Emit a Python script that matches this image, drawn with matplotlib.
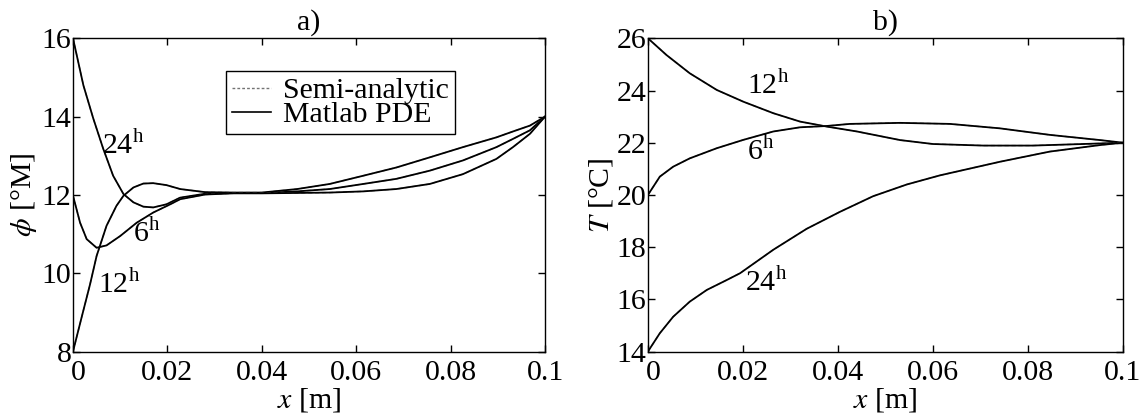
import matplotlib
matplotlib.use('Agg')
import matplotlib.pyplot as plt
import matplotlib.transforms as mtransforms

# a) moisture potential phi [°M] vs x [m]
phi_x_24 = [0, 0.0022, 0.0043, 0.0064, 0.0085, 0.0107, 0.0128, 0.0149, 0.017, 0.0198, 0.0227,
            0.028, 0.034, 0.04, 0.0475, 0.0544, 0.0615, 0.0685, 0.0756, 0.0826, 0.0897,
            0.0932, 0.0968, 0.1]
phi_24 = [16, 14.80, 13.95, 13.18, 12.49, 12.02, 11.81, 11.70, 11.68, 11.76, 11.93,
          12.03, 12.05, 12.05, 12.09, 12.15, 12.28, 12.41, 12.62, 12.88, 13.22,
          13.43, 13.65, 14.0]
phi_x_12 = [0, 0.0018, 0.0036, 0.005, 0.0071, 0.0092, 0.0107, 0.0128, 0.0149, 0.017, 0.0198,
            0.0227, 0.028, 0.034, 0.04, 0.0475, 0.0544, 0.0615, 0.0685, 0.0756, 0.0826,
            0.0897, 0.0932, 0.0968, 0.1]
phi_12 = [8, 8.86, 9.71, 10.44, 11.21, 11.72, 11.98, 12.19, 12.29, 12.30, 12.25,
          12.15, 12.07, 12.06, 12.06, 12.15, 12.28, 12.49, 12.70, 12.96, 13.22,
          13.47, 13.62, 13.77, 14.0]
phi_x_6 = [0, 0.0015, 0.0029, 0.005, 0.0071, 0.01, 0.0135, 0.017, 0.0206, 0.0227,
           0.028, 0.034, 0.04, 0.0475, 0.0544, 0.0615, 0.0685, 0.0756, 0.0826, 0.0897,
           0.0932, 0.0968, 0.1]
phi_6 = [11.98, 11.29, 10.87, 10.65, 10.71, 10.95, 11.29, 11.55, 11.76, 11.89,
         12.01, 12.04, 12.04, 12.05, 12.06, 12.09, 12.15, 12.28, 12.53, 12.92,
         13.22, 13.56, 14.0]

# b) temperature T [°C] vs x [m]
T_x_12 = [0, 0.0039, 0.0088, 0.0145, 0.0201, 0.0264, 0.032, 0.0376, 0.044, 0.0531,
          0.06, 0.0706, 0.081, 0.0916, 0.1]
T_12 = [26, 25.36, 24.66, 24.02, 23.57, 23.13, 22.81, 22.62, 22.43, 22.10,
        21.95, 21.89, 21.89, 21.95, 22.0]
T_x_6 = [0, 0.0025, 0.0053, 0.0088, 0.0145, 0.0201, 0.0264, 0.032, 0.0376, 0.0425,
         0.0531, 0.0636, 0.0741, 0.0846, 0.0952, 0.1]
T_6 = [20.0, 20.70, 21.08, 21.40, 21.79, 22.11, 22.43, 22.59, 22.64, 22.72,
       22.76, 22.72, 22.55, 22.30, 22.10, 22.0]
T_x_24 = [0, 0.0025, 0.0053, 0.0088, 0.0124, 0.0166, 0.0194, 0.0264, 0.0334, 0.0404,
          0.0474, 0.0545, 0.0615, 0.0741, 0.0846, 0.0952, 0.1]
T_24 = [14.0, 14.70, 15.33, 15.91, 16.36, 16.74, 17.0, 17.9, 18.7, 19.35,
        19.95, 20.4, 20.75, 21.27, 21.66, 21.91, 22.0]

x_ticks = [0, 0.02, 0.04, 0.06, 0.08, 0.1]
x_tick_labels = ['0', '0.02', '0.04', '0.06', '0.08', '0.1']

FS = 21.5
plt.rcParams['font.family'] = ['Liberation Serif', 'DejaVu Serif']
plt.rcParams['mathtext.fontset'] = 'stix'
plt.rcParams['font.size'] = FS

fig = plt.figure(figsize=(11.46, 4.15), dpi=100)
ax1 = fig.add_axes([0.0637, 0.153, 0.4119, 0.7547])
ax2 = fig.add_axes([0.5654, 0.153, 0.4145, 0.7547])


def draw_pair(ax, x, y):
    # semi-analytic (dashed) and Matlab PDE (solid) coincide
    ax.plot(x, y, color='0.55', lw=1.0, ls=(0, (3, 2)))
    ax.plot(x, y, color='black', lw=1.3)


for x, y in [(phi_x_24, phi_24), (phi_x_12, phi_12), (phi_x_6, phi_6)]:
    draw_pair(ax1, x, y)
for x, y in [(T_x_12, T_12), (T_x_6, T_6), (T_x_24, T_24)]:
    draw_pair(ax2, x, y)

# legend handles
l_semi, = ax1.plot([], [], color='0.45', lw=1.0, ls=(0, (2, 1.5)), label='Semi-analytic')
l_pde, = ax1.plot([], [], color='black', lw=1.2, label='Matlab PDE')
leg = ax1.legend(handles=[l_semi, l_pde], loc='upper left', bbox_to_anchor=(0.324, 0.895),
                 borderaxespad=0, fancybox=False, framealpha=1, edgecolor='black',
                 handlelength=1.3, handletextpad=0.4, labelspacing=-0.1, borderpad=0.2,
                 fontsize=FS)
leg.get_frame().set_linewidth(1.0)

# curve labels
ax1.text(0.0061, 13.26, '24$^{\\mathregular{h}}$', va='center', ha='left')
ax1.text(0.0127, 11.0, '6$^{\\mathregular{h}}$', va='center', ha='left')
ax1.text(0.0053, 9.7, '12$^{\\mathregular{h}}$', va='center', ha='left')
ax2.text(0.0208, 24.17, '12$^{\\mathregular{h}}$', va='center', ha='left')
ax2.text(0.0208, 21.64, '6$^{\\mathregular{h}}$', va='center', ha='left')
ax2.text(0.0204, 16.64, '24$^{\\mathregular{h}}$', va='center', ha='left')

ax1.set_xlim(0, 0.1)
ax1.set_ylim(8, 16)
ax1.set_yticks([8, 10, 12, 14, 16])
ax1.set_ylabel('$\\phi$ [°M]', labelpad=2)
ax1.set_title('a)', pad=6, fontsize=FS)

ax2.set_xlim(0, 0.1)
ax2.set_ylim(14, 26)
ax2.set_yticks([14, 16, 18, 20, 22, 24, 26])
ax2.set_ylabel('$T$ [°C]', labelpad=1)
ax2.set_title('b)', pad=6, fontsize=FS)

for ax in (ax1, ax2):
    ax.set_xticks(x_ticks)
    ax.set_xticklabels(x_tick_labels)
    ax.set_xlabel('$x$ [m]', labelpad=0)
    ax.tick_params(direction='in', top=True, right=True, length=5, width=1,
                   labelsize=FS)
    ax.tick_params(axis='x', pad=6)
    ax.tick_params(axis='y', pad=1)
    for s in ax.spines.values():
        s.set_linewidth(1.0)
    # the "0" sits a little right of the corner, as in the original
    lbl = ax.get_xticklabels()[0]
    lbl.set_transform(lbl.get_transform() +
                      mtransforms.ScaledTranslation(5 / 100, 0, fig.dpi_scale_trans))

plt.savefig('out.png', dpi=100)
